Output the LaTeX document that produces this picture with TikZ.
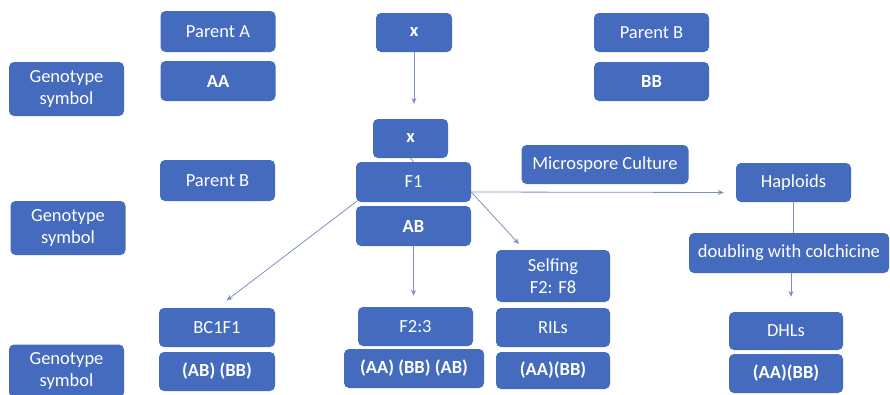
\documentclass[tikz,border=0pt]{standalone}
\usepackage{fontspec}
\setmainfont{Carlito}
\usetikzlibrary{arrows.meta}

\definecolor{boxblue}{RGB}{68,107,190}
\definecolor{linkgray}{RGB}{125,145,195}

\tikzset{
  box/.style={fill=boxblue, text=white, rounded corners=5pt, align=center,
    inner sep=2pt, minimum width=\bw, minimum height=\bh,
    font=\fontsize{18.5}{22}\selectfont},
  gbox/.style={box, font=\fontsize{18.5}{22}\selectfont\bfseries},
  link/.style={draw=linkgray, line width=0.8pt},
  arr/.style={link, -{Stealth[length=6pt,width=5pt]}}
}

\begin{document}
\begin{tikzpicture}[x=1pt, y=-1pt]

% --- Dimensions ---
\def\bw{115pt}
\def\bh{40pt}

\useasboundingbox (0,0) rectangle (890,394);

% --- Colonne de gauche ---
\node[box, minimum height=54pt] (gs1) at (66.5,89)  {Genotype\\symbol};
\node[box, minimum height=54pt] (gs2) at (68,228)   {Genotype\\symbol};
\node[box, minimum height=53pt] (gs3) at (66.5,371) {Genotype\\symbol};

% --- Parents ---
\node[box, minimum height=41pt] (pA)  at (218,31.5)   {Parent A};
\node[gbox]                     (aa)  at (218,81)     {AA};
\node[box, minimum height=39pt] (pB)  at (651.5,32.5) {Parent B};
\node[gbox, minimum height=39pt] (bb) at (651.5,81.5) {BB};
\node[box, minimum height=41pt] (pB2) at (217.5,180.5) {Parent B};

% --- Croisements ---
\node[gbox, minimum width=76pt, minimum height=39pt] (x1) at (414,32.5)    {x};
\node[gbox, minimum width=75pt, minimum height=39pt] (x2) at (410.5,138.5) {x};
\node[box]  (f1) at (413.5,182) {F1};
\node[gbox] (ab) at (413.5,226) {AB};

% --- Haploides ---
\node[box, minimum width=167pt, minimum height=39pt] (msc) at (605,164.5) {Microspore Culture};
\node[box, minimum height=39pt]  (hap) at (793.5,182.5) {Haploids};
\node[box, minimum width=200pt]  (dbl) at (789,253)     {doubling with colchicine};

% --- Descendances ---
\node[box, minimum width=116pt, minimum height=39pt]  (bc)   at (217,327.5)   {BC1F1};
\node[gbox, minimum width=116pt, minimum height=39pt] (bcg)  at (217,371.5)   {(AB) (BB)};
\node[box, minimum height=39pt]                       (f23)  at (415.5,326.5) {F2:3};
\node[gbox, minimum width=140pt, minimum height=39pt] (f23g) at (414,368.5)   {(AA) (BB) (AB)};
\node[box, minimum width=114pt, minimum height=52pt]  (self) at (553,276)     {Selfing\\F2: F8};
\node[box, minimum width=114pt, minimum height=39pt]  (ril)  at (553,327.5)   {RILs};
\node[gbox, minimum width=114pt, minimum height=37pt] (rilg) at (553,370.5)   {(AA)(BB)};
\node[box, minimum width=114pt, minimum height=38pt]  (dhl)  at (786,331)     {DHLs};
\node[gbox, minimum width=114pt, minimum height=39pt] (dhlg) at (786,373.5)   {(AA)(BB)};

\coordinate (selftip) at (519,244);

% --- Liens ---
\draw[arr, shorten >=15pt] (x1.south) -- (x1.south |- x2.north);
\draw[link] (x2.south) -- (f1.north);
\draw[arr, shorten >=12pt] ([yshift=-10pt]f1.east) -- ([yshift=-10pt]hap.west);
\draw[arr] ([yshift=-10pt]f1.east) -- (selftip);
\draw[arr, shorten >=12pt] ([xshift=1pt,yshift=1pt]f1.south west) -- (bc.north);
\draw[arr, shorten >=11pt] (ab.south) -- (ab.south |- f23.north);
\draw[link] (hap.south) -- (hap.south |- dbl.north);
\draw[arr, shorten >=15pt] ([xshift=2pt]dbl.south) -- ([xshift=2pt]dbl.south |- dhl.north);

\end{tikzpicture}
\end{document}
